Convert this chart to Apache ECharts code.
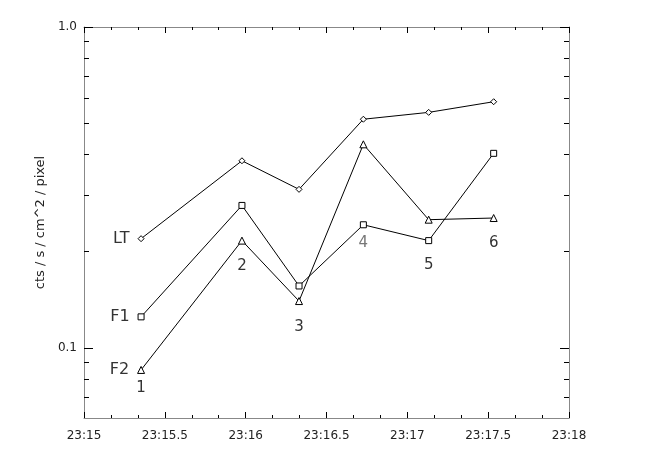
<!DOCTYPE html>
<html>
<head>
<meta charset="utf-8">
<script src="https://cdn.jsdelivr.net/npm/echarts@6/dist/echarts.min.js"></script>
<style>
html,body{margin:0;padding:0;background:#fff;}
#chart{width:665px;height:475px;}
</style>
</head>
<body>
<div id="chart"></div>
<script>
// time in minutes after 23:00
var times = [15.353, 15.977, 16.330, 16.728, 17.132, 17.534];
var pointNames = ['1', '2', '3', '4', '5', '6'];
var ltValues = [0.219, 0.383, 0.312, 0.516, 0.542, 0.585];
var f1Values = [0.125, 0.278, 0.156, 0.242, 0.216, 0.404];
var f2Values = [0.0854, 0.216, 0.140, 0.431, 0.251, 0.254];
var yMajorTicks = [0.1, 1];
var yMinorTicks = [0.07, 0.08, 0.09, 0.2, 0.3, 0.4, 0.5, 0.6, 0.7, 0.8, 0.9];

// which series carries the point number, and how far below it sits
var numberOn = ['F2', 'F2', 'F2', 'F1', 'F1', 'F2'];
var numberGap = [7, 14, 15, 7, 13, 14];

var font = 'DejaVu Sans';
var yMin = 0.0605, yMax = 1;

function makeData(name, values) {
	return values.map(function (v, i) {
		var item = { value: [times[i], v] };
		if (i > 0 && numberOn[i] === name) {
			item.label = {
				show: true, position: 'bottom', distance: numberGap[i],
				formatter: pointNames[i],
				fontFamily: font, fontSize: 15,
				color: i === 3 ? '#777' : '#333'
			};
		}
		if (i === 0) {
			item.label = {
				show: true, position: 'left', distance: 8, formatter: name,
				fontFamily: font, fontSize: 16, color: '#333'
			};
		}
		return item;
	});
}

function lineSeries(name, values, symbol, size) {
	var s = {
		name: name,
		type: 'line',
		xAxisIndex: 0,
		yAxisIndex: 0,
		symbol: symbol,
		symbolSize: size,
		showAllSymbol: true,
		lineStyle: { color: '#000', width: 1 },
		itemStyle: { color: '#fff', borderColor: '#000', borderWidth: 1 },
		emphasis: { disabled: true },
		data: makeData(name, values)
	};
	if (numberOn[0] === name) {
		// number of the first point goes below it, the name is already on its left
		s.markPoint = {
			symbol: 'circle',
			symbolSize: 1,
			silent: true,
			itemStyle: { color: 'rgba(0,0,0,0)' },
			data: [{ coord: [times[0], values[0]] }],
			label: {
				show: true, position: 'bottom', distance: numberGap[0] + 3,
				formatter: pointNames[0],
				fontFamily: font, fontSize: 15, color: '#333'
			}
		};
	}
	return s;
}

function xAxisCfg(pos, labels) {
	return {
		type: 'value', position: pos, min: 15, max: 18, interval: 0.5,
		axisLine: { show: true, lineStyle: { color: '#888', width: 1 } },
		axisTick: { show: true, inside: true, length: 6, lineStyle: { color: '#000', width: 1 } },
		minorTick: { show: true, splitNumber: 3, length: 3, lineStyle: { color: '#000', width: 1 } },
		splitLine: { show: false },
		axisLabel: {
			show: labels, margin: 12,
			fontFamily: font, fontSize: 12, color: '#222',
			formatter: function (v) { return '23:' + v; }
		}
	};
}

// plain tick-only axis, a second way of getting the x ticks drawn
function xTickAxis(pos) {
	return {
		type: 'value', position: pos, min: 15, max: 18, interval: 0.5,
		axisLine: { show: false },
		axisTick: { show: true, inside: true, length: 6, lineStyle: { color: '#000', width: 1 } },
		minorTick: { show: true, splitNumber: 3, length: 3, lineStyle: { color: '#000', width: 1 } },
		splitLine: { show: false },
		minorSplitLine: { show: false },
		axisLabel: { show: true, color: 'rgba(0,0,0,0)' }
	};
}

function yAxisCfg(pos, ticks, len, labels, line) {
	var cfg = {
		type: 'log', logBase: 10, position: pos, min: yMin, max: yMax,
		axisLine: { show: line, lineStyle: { color: '#888', width: 1 } },
		axisTick: { show: true, inside: true, length: len, customValues: ticks, lineStyle: { color: '#000' } },
		splitLine: { show: false },
		axisLabel: {
			show: labels, customValues: yMajorTicks, margin: 7,
			fontFamily: font, fontSize: 12, color: '#222',
			formatter: function (v) { return Number(v).toFixed(1); }
		}
	};
	if (labels) {
		cfg.name = 'cts / s / cm^2 / pixel';
		cfg.nameLocation = 'middle';
		cfg.nameGap = 35;
		cfg.nameRotate = 90;
		cfg.nameTextStyle = { fontFamily: font, fontSize: 13, color: '#222' };
	}
	return cfg;
}

var chart = echarts.init(document.getElementById('chart'));
var option = {
	animation: false,
	backgroundColor: '#fff',
	grid: { left: 84, right: 96, top: 27, bottom: 57 },
	xAxis: [
		xAxisCfg('bottom', true),
		xAxisCfg('top', false),
		xTickAxis('bottom'),
		xTickAxis('top')
	],
	yAxis: [
		yAxisCfg('left', yMajorTicks, 9, true, true),
		yAxisCfg('left', yMinorTicks, 5, false, false),
		yAxisCfg('right', yMajorTicks, 9, false, true),
		yAxisCfg('right', yMinorTicks, 5, false, false)
	],
	series: [
		lineSeries('LT', ltValues, 'diamond', 6),
		lineSeries('F1', f1Values, 'rect', 6),
		lineSeries('F2', f2Values, 'triangle', 7)
	]
};
chart.setOption(option);
</script>
</body>
</html>
